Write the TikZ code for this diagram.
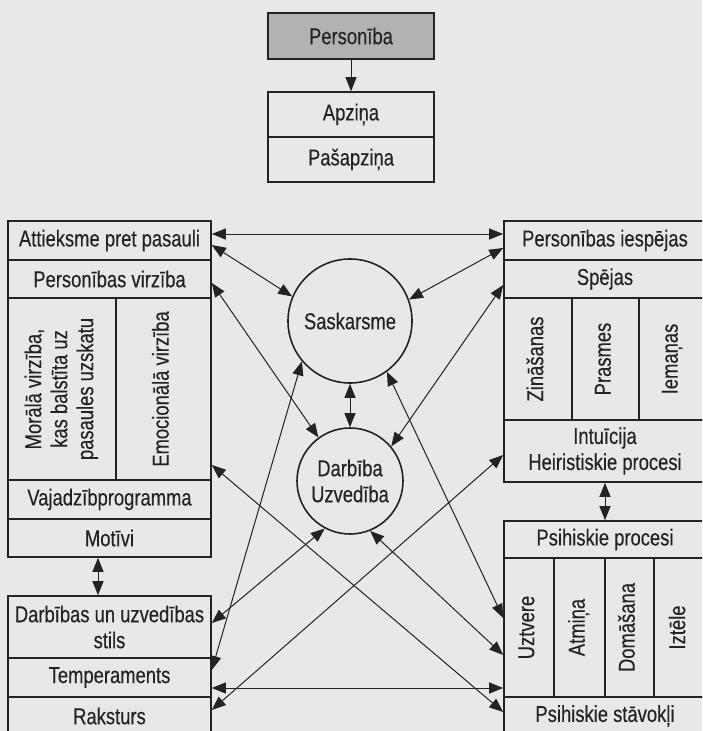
\documentclass[tikz,border=0pt]{standalone}
\usepackage{fontspec}
\usepackage{graphicx}
\setmainfont{Liberation Sans}[FakeStretch=0.8,FakeBold=0.3]
\usetikzlibrary{arrows.meta,calc}

\definecolor{paper}{RGB}{232,232,232}
\definecolor{ink}{RGB}{35,35,35}
\definecolor{headgray}{RGB}{178,178,178}

\tikzset{every picture/.style={line width=1.6pt}}
\tikzset{
	cell/.style={draw=ink, line width=1.6pt, inner sep=2pt, align=center, text=ink, font=\fontsize{23}{26}\selectfont},
	ring/.style={cell, circle},
	link/.style={draw=ink, line width=1pt, {Triangle[length=14pt,width=11pt]}-{Triangle[length=14pt,width=11pt]}},
	drop/.style={draw=ink, line width=1pt, -{Triangle[length=14pt,width=11pt]}}
}
\newcommand{\upright}[1]{\rotatebox{90}{\begin{tabular}{@{}c@{}}#1\end{tabular}}}

\begin{document}
\begin{tikzpicture}[x=1pt,y=1pt,yscale=-1,xscale=1]
	%Shape: Rectangle [page]
	\path [use as bounding box, fill=paper] (0,0) rectangle (702,731);
	\clip (0,0) rectangle (702,731);

	%Shape: Rectangle [top]
	\node [cell, fill=headgray, line width=2.8pt, minimum width=166pt, minimum height=46pt] (pers) at (351,36) {Personība};
	\node [cell, minimum width=166pt, minimum height=45pt] (apz) at (351,114.5) {Apziņa};
	\node [cell, minimum width=166pt, minimum height=45pt] (pasapz) at (351,159.5) {Pašapziņa};

	%Shape: Rectangle [left]
	\node [cell, minimum width=203pt, minimum height=39pt] (att) at (109.5,240.5) {Attieksme pret pasauli};
	\node [cell, minimum width=203pt, minimum height=38pt] (virz) at (109.5,279) {Personības virzība};
	\node [cell, minimum width=108pt, minimum height=182pt] (moral) at (62,389) {\upright{Morālā virzība,\\kas balstīta uz\\pasaules uzskatu}};
	\node [cell, minimum width=95pt, minimum height=182pt] (emoc) at (163.5,389) {\upright{Emocionālā virzība}};
	\node [cell, minimum width=203pt, minimum height=39pt] (vaj) at (109.5,499.5) {Vajadzībprogramma};
	\node [cell, minimum width=203pt, minimum height=38pt] (mot) at (109.5,538) {Motīvi};
	\node [cell, minimum width=203pt, minimum height=62pt] (stils) at (109.5,627) {Darbības un uzvedības\\stils};
	\node [cell, minimum width=203pt, minimum height=39pt] (temp) at (109.5,677.5) {Temperaments};
	\node [cell, minimum width=203pt, minimum height=38pt] (rakst) at (109.5,716) {Raksturs};

	%Shape: Rectangle [right]
	\node [cell, minimum width=202pt, minimum height=39pt] (iesp) at (605,240.5) {Personības iespējas};
	\node [cell, minimum width=202pt, minimum height=38pt] (spej) at (605,279) {Spējas};
	\node [cell, minimum width=68pt, minimum height=122pt] (zin) at (538,359) {\upright{Zināšanas}};
	\node [cell, minimum width=67pt, minimum height=122pt] (pras) at (605.5,359) {\upright{Prasmes}};
	\node [cell, minimum width=67pt, minimum height=122pt] (iem) at (672.5,359) {\upright{Iemaņas}};
	\node [cell, minimum width=202pt, minimum height=62pt] (intu) at (605,451) {Intuīcija\\Heiristiskie procesi};
	\node [cell, minimum width=202pt, minimum height=37pt] (psproc) at (605,539.5) {Psihiskie procesi};
	\node [cell, minimum width=50pt, minimum height=139pt] (uztv) at (529,627.5) {\upright{Uztvere}};
	\node [cell, minimum width=51pt, minimum height=139pt] (atm) at (579.5,627.5) {\upright{Atmiņa}};
	\node [cell, minimum width=49pt, minimum height=139pt] (dom) at (629.5,627.5) {\upright{Domāšana}};
	\node [cell, minimum width=52pt, minimum height=139pt] (izt) at (680,627.5) {\upright{Iztēle}};
	\node [cell, minimum width=202pt, minimum height=38pt] (psstav) at (605,716) {Psihiskie stāvokļi};

	%Shape: Circle
	\node [ring, minimum size=124pt] (sask) at (350,321) {Saskarsme};
	\node [ring, minimum size=106pt] (darb) at (350,481) {Darbība\\Uzvedība};

	%Straight Lines
	\draw [drop] (pers) -- (apz);
	\draw [link] (sask) -- (darb);
	\draw [link] ($(mot.south)+(-11.5,0)$) -- ($(stils.north)+(-11.5,0)$);
	\draw [link] (intu) -- (psproc);
	%Straight Lines
	\draw [link] ($(att.east)+(0,-6.5)$) -- ($(iesp.west)+(0,-6.5)$);
	\draw [link] ($(att.east)+(0,4.5)$) -- (sask.157);
	\draw [link] ($(virz.east)+(0,4)$) -- (darb.126);
	\draw [link] ($(iesp.west)+(0,7.5)$) -- (sask.20);
	\draw [link] ($(spej.west)+(0,6)$) -- (darb.40);
	\draw [link] ($(emoc.east)+(0,76)$) -- ($(psstav.west)+(0,-4)$);
	\draw [link] ($(stils.east)+(0,-4)$) -- (darb.242);
	\draw [link] ($(temp.east)+(0,-7.5)$) -- (sask.220);
	\coordinate (tmid) at ($(temp.east)+(0,10.5)$);
	\draw [link] (tmid) -- (tmid -| uztv.west);
	\draw [link] ($(rakst.east)+(0,-6)$) -- ($(intu.west)+(0,4)$);
	\draw [link] (sask.306) -- ($(uztv.west)+(0,-9.5)$);
	\draw [link] (darb.292) -- ($(uztv.west)+(0,27.5)$);
\end{tikzpicture}
\end{document}
